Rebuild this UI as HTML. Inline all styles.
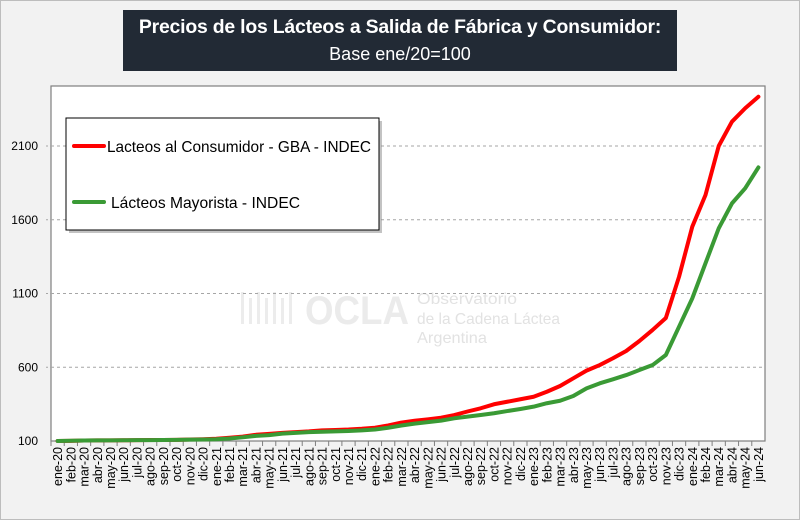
<!DOCTYPE html>
<html><head><meta charset="utf-8"><style>
html,body{margin:0;padding:0;background:#f2f2f2;}
body{width:800px;height:520px;position:relative;overflow:hidden;font-family:"Liberation Sans",sans-serif;}
#frame{position:absolute;left:0;top:0;width:798px;height:518px;border:1px solid #bdbdbd;}
#title{position:absolute;left:123px;top:10px;width:554px;height:61px;background:#222a35;color:#fff;text-align:center;}
</style></head><body>
<div id="frame"></div>
<div id="title">
<div style="font-size:19.4px;font-weight:bold;line-height:22px;margin-top:6px;letter-spacing:-0.2px;">Precios de los Lácteos a Salida de Fábrica y Consumidor:</div>
<div style="font-size:18px;line-height:22px;margin-top:5px;">Base ene/20=100</div>
</div>
<svg id="chart" width="800" height="520" style="position:absolute;left:0;top:0"></svg>
<script>
const categories=["ene-20","feb-20","mar-20","abr-20","may-20","jun-20","jul-20","ago-20","sep-20","oct-20","nov-20","dic-20","ene-21","feb-21","mar-21","abr-21","may-21","jun-21","jul-21","ago-21","sep-21","oct-21","nov-21","dic-21","ene-22","feb-22","mar-22","abr-22","may-22","jun-22","jul-22","ago-22","sep-22","oct-22","nov-22","dic-22","ene-23","feb-23","mar-23","abr-23","may-23","jun-23","jul-23","ago-23","sep-23","oct-23","nov-23","dic-23","ene-24","feb-24","mar-24","abr-24","may-24","jun-24"];
const consumidor=[100,101,103,104,104,105,106,107,107,108,110,112,115,122,130,142,148,155,160,165,172,175,178,183,190,205,225,237,247,258,276,300,322,349,366,383,400,434,473,525,577,615,661,710,778,853,934,1214,1553,1768,2100,2265,2356,2434];
const mayorista=[100,102,103,104,104,105,106,106,107,108,109,110,112,117,125,135,140,150,155,160,163,165,168,172,178,190,205,218,228,238,254,265,276,288,303,317,333,356,373,405,457,491,518,547,581,615,683,875,1067,1305,1542,1711,1813,1955];
const yTicks=[100,600,1100,1600,2100];
const series=[{name:"Lacteos al Consumidor - GBA - INDEC",values:consumidor,color:"#ff0000",key:"consumidor",w:264},{name:"Lácteos Mayorista - INDEC",values:mayorista,color:"#3a9a35",key:"mayorista",w:189}];

const NS="http://www.w3.org/2000/svg";
const svg=document.getElementById('chart');
const L=51,R=765,T=86,B=441;
const band=(R-L)/categories.length;
const x=i=>L+band*(i+0.5);
const y=v=>B-(v-100)*(B-146)/2000;
function el(t,a,p){const e=document.createElementNS(NS,t);for(const k in a)e.setAttribute(k,a[k]);(p||svg).appendChild(e);return e;}

const bg=el('rect',{x:L,y:T,width:R-L,height:B-T,fill:'#fff',stroke:'#7f7f7f','stroke-width':1.2});



const wm=el('g',{});


const w1=el('text',{x:305,y:324,'font-size':40,'font-weight':'bold',fill:'#ebebeb',textLength:104,lengthAdjust:'spacingAndGlyphs'},wm);w1.textContent='OCLA';


for(let k=0;k<7;k++){el('rect',{x:241+k*8,y:292+(k%2?6:0),width:3,height:32-(k%2?6:0),fill:'#ececec'},wm);}
[['Observatorio',304,100],['de la Cadena Láctea',324,143],['Argentina',343,70]].forEach(t=>{const e=el('text',{x:417,y:t[1],'font-size':16,fill:'#e2e2e2',textLength:t[2],lengthAdjust:'spacingAndGlyphs'},wm);e.textContent=t[0];

});

yTicks.forEach(v=>{
  if(v>100){const g=el('line',{x1:L,x2:R,y1:y(v),y2:y(v),stroke:'#a6a6a6','stroke-dasharray':'3,3','stroke-width':1});
  
  
  el('line',{x1:L-5,x2:L,y1:y(v),y2:y(v),stroke:'#a6a6a6','stroke-dasharray':'2,2'});}
  const t=el('text',{x:38,y:y(v)+4,'text-anchor':'end','font-size':12,fill:'#000'});t.textContent=v;
  
  
});
categories.forEach((c,i)=>{
  el('line',{x1:L+band*i,x2:L+band*i,y1:B,y2:B+5,stroke:'#7f7f7f'});
  const t=el('text',{transform:`translate(${x(i)+4.5},${B+6}) rotate(-90)`,'text-anchor':'end','font-size':12.5,fill:'#000'});t.textContent=c;
  
  
});
series.forEach(s=>{
  const p=el('polyline',{points:s.values.map((v,i)=>x(i)+','+y(v)).join(' '),fill:'none',stroke:s.color,'stroke-width':4,'stroke-linejoin':'round','stroke-linecap':'round'});
  
  
});
const lg=el('g',{});


el('rect',{x:69,y:121,width:313,height:112,fill:'#888',opacity:0.5},lg);
el('rect',{x:66,y:118,width:313,height:112,fill:'#fff',stroke:'#000','stroke-width':1},lg);
series.forEach((s,k)=>{
  const yy=146+k*56;
  el('line',{x1:74,x2:104,y1:yy,y2:yy,stroke:s.color,'stroke-width':4,'stroke-linecap':'round'},lg);
  const t=el('text',{x:k?111:107,y:yy+6,'font-size':16,fill:'#000',textLength:s.w,lengthAdjust:'spacingAndGlyphs'},lg);t.textContent=s.name;
  
  
});
</script>
</body></html>
